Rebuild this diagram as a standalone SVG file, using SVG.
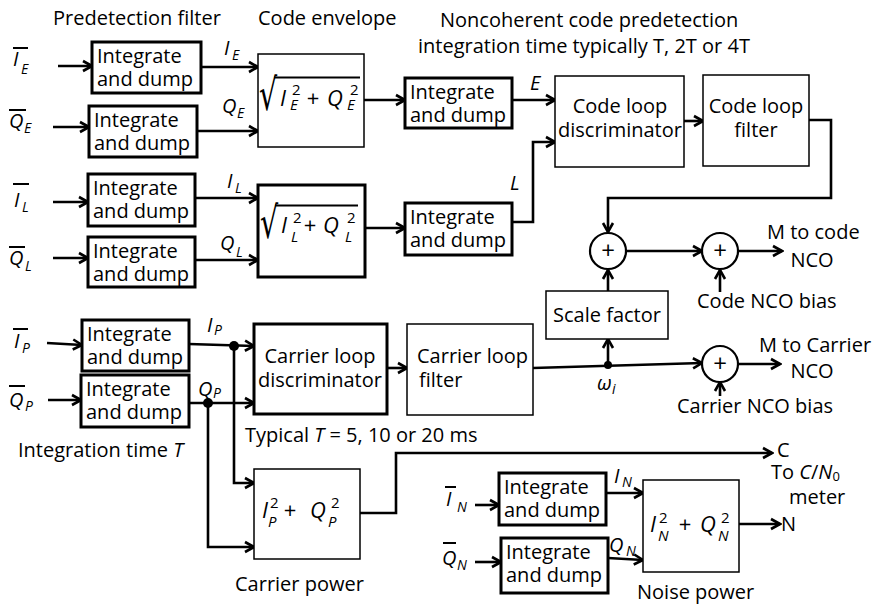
<svg xmlns="http://www.w3.org/2000/svg" width="876" height="604" viewBox="0 0 876 604">
<defs>
<marker id="ah" markerUnits="userSpaceOnUse" markerWidth="14" markerHeight="14" viewBox="0 0 14 14" refX="12" refY="7" orient="auto">
<path d="M3,2 L12,7 L3,12" fill="none" stroke="#000" stroke-width="2.6" stroke-linejoin="miter"/>
</marker>
<style>
text{font-family:"Open Sans","Noto Sans","DejaVu Sans",sans-serif;font-size:20px;fill:#000}
.c{text-anchor:middle}
.it{font-style:italic}
.sb{font-size:14px;font-style:italic}
.fm{font-size:22px;font-style:italic}
.fp{font-size:22px;text-anchor:middle}
.sp{font-size:15px}
.ss{font-size:15px;font-style:italic}
.pl{font-size:24px;text-anchor:middle}
.rad{font-family:"DejaVu Sans",sans-serif;font-size:44px}
.thick{fill:#fff;stroke:#000;stroke-width:3}
.thin{fill:#fff;stroke:#000;stroke-width:1.5}
.sum{fill:#fff;stroke:#000;stroke-width:2.2}
.cn path{fill:none;stroke:#000;stroke-width:2.6;marker-end:url(#ah)}
.bar{stroke:#000;stroke-width:2}
</style>
</defs>
<rect width="876" height="604" fill="#fff"/>

<!-- titles -->
<text x="53" y="25">Predetection filter</text>
<text x="258" y="25">Code envelope</text>
<text x="440" y="27">Noncoherent code predetection</text>
<text x="418" y="53">integration time typically T, 2T or 4T</text>
<text x="18" y="457">Integration time <tspan class="it">T</tspan></text>
<text x="245" y="442">Typical <tspan class="it">T</tspan> = 5, 10 or 20 ms</text>
<text x="235" y="591">Carrier power</text>
<text x="637" y="599">Noise power</text>

<g id="labels">
<line class="bar" x1="13" y1="48" x2="28" y2="48"/><text class="it" x="13" y="66">I</text><text class="sb" x="21" y="74">E</text>
<line class="bar" x1="9" y1="110" x2="26" y2="110"/><text class="it" x="9" y="128">Q</text><text class="sb" x="24" y="133">E</text>
<line class="bar" x1="13" y1="184" x2="29" y2="184"/><text class="it" x="14" y="207">I</text><text class="sb" x="22" y="212">L</text>
<line class="bar" x1="9" y1="247" x2="25" y2="247"/><text class="it" x="9" y="265">Q</text><text class="sb" x="25" y="271">L</text>
<line class="bar" x1="13" y1="329" x2="28" y2="329"/><text class="it" x="14" y="348">I</text><text class="sb" x="22" y="353">P</text>
<line class="bar" x1="9" y1="386" x2="25" y2="386"/><text class="it" x="9" y="407">Q</text><text class="sb" x="25" y="411">P</text>
<line class="bar" x1="445" y1="487" x2="456" y2="487"/><text class="it" x="446" y="506">I</text><text class="sb" x="457" y="512">N</text>
<line class="bar" x1="443" y1="543" x2="456" y2="543"/><text class="it" x="442" y="565">Q</text><text class="sb" x="457" y="570">N</text>

<text class="it" x="224" y="55">I</text><text class="sb" x="232" y="60">E</text>
<text class="it" x="222" y="113">Q</text><text class="sb" x="237" y="118">E</text>
<text class="it" x="227" y="188">I</text><text class="sb" x="235" y="193">L</text>
<text class="it" x="220" y="250">Q</text><text class="sb" x="236" y="257">L</text>
<text class="it" x="207" y="332">I</text><text class="sb" x="214" y="335">P</text>
<text class="it" x="198" y="396">Q</text><text class="sb" x="213" y="398">P</text>
<text class="it" x="614" y="483">I</text><text class="sb" x="622" y="487">N</text>
<text class="it" x="609" y="552">Q</text><text class="sb" x="626" y="556">N</text>
<text class="it" x="530" y="90">E</text>
<text class="it" x="510" y="190">L</text>
<text class="it" x="597" y="390">ω</text><text class="sb" x="612" y="394">i</text>

<text x="767" y="239">M to code</text>
<text class="c" x="812" y="267">NCO</text>
<text x="697" y="308">Code NCO bias</text>
<text x="759" y="352">M to Carrier</text>
<text class="c" x="812" y="378">NCO</text>
<text x="677" y="413">Carrier NCO bias</text>
<text x="777" y="457">C</text>
<text x="771" y="479">To  <tspan class="it">C</tspan>/<tspan class="it">N</tspan><tspan font-size="13px" dy="2">0</tspan></text>
<text x="789" y="504">meter</text>
<text x="781" y="531">N</text>
</g>

<g id="connectors" class="cn">
<path d="M58,66 H92"/>
<path d="M53,127 H89"/>
<path d="M201,67 H258"/>
<path d="M197,131 H258"/>
<path d="M53,202 H88"/>
<path d="M53,258 H88"/>
<path d="M195,198 H258"/>
<path d="M195,260 H258"/>
<path d="M364,100 H405"/>
<path d="M365,228 H405"/>
<path d="M512,100 H555"/>
<path d="M512,222 H533 V142 H555"/>
<path d="M684,121 H703"/>
<path d="M809,120 H831 V198 H608 V232"/>
<path d="M626,251 H702"/>
<path d="M738,251 H782"/>
<path d="M720,292 V270"/>
<path d="M608,291 V270"/>
<path d="M608,365 V339"/>
<path d="M533,368 L702,363"/>
<path d="M738,364 H780"/>
<path d="M720,396 V382"/>
<path d="M47,343 L82,345"/>
<path d="M48,400 H81"/>
<path d="M189,344 L254,346"/>
<path d="M189,403 H254"/>
<path d="M234,346 V483 H254"/>
<path d="M208,403 V547 H254"/>
<path d="M387,368 H407"/>
<path d="M360,513 H396 V453 H772"/>
<path d="M475,505 H499"/>
<path d="M475,562 H501"/>
<path d="M606,493 H643"/>
<path d="M608,558 L643,560"/>
<path d="M739,524 H780"/>
<circle cx="234" cy="346" r="5" fill="#000"/>
<circle cx="208" cy="403" r="5" fill="#000"/>
<circle cx="608" cy="365" r="4" fill="#000"/>
</g>

<!-- E branch -->
<g id="idE1"><rect class="thick" x="92" y="42" width="109" height="51"/><text x="97" y="63">Integrate</text><text x="97" y="86">and dump</text></g>
<g id="idQE1"><rect class="thick" x="89" y="106" width="108" height="51"/><text x="94" y="127">Integrate</text><text x="94" y="150">and dump</text></g>
<g id="envE"><rect class="thin" x="258" y="54" width="106" height="93"/>
<text class="rad" transform="translate(259,110) scale(0.65,1)">√</text><line x1="274" y1="77.5" x2="360" y2="77.5" stroke="#000" stroke-width="2"/>
<text class="fm" x="280" y="106">I</text><text class="sp" x="292" y="95">2</text><text class="ss" x="290" y="110">E</text>
<text class="fp" x="313" y="106">+</text>
<text class="fm" x="327" y="106">Q</text><text class="sp" x="350" y="95">2</text><text class="ss" x="347" y="110">E</text></g>
<g id="idE2"><rect class="thick" x="405" y="78" width="107" height="50"/><text x="410" y="99">Integrate</text><text x="410" y="122">and dump</text></g>

<!-- L branch -->
<g id="idL1"><rect class="thick" x="88" y="174" width="107" height="52"/><text x="93" y="195">Integrate</text><text x="93" y="218">and dump</text></g>
<g id="idQL1"><rect class="thick" x="88" y="237" width="107" height="50"/><text x="93" y="258">Integrate</text><text x="93" y="281">and dump</text></g>
<g id="envL"><rect class="thick" x="258" y="185" width="107" height="92"/>
<text class="rad" transform="translate(260,238) scale(0.65,1)">√</text><line x1="275" y1="205.5" x2="358" y2="205.5" stroke="#000" stroke-width="2.2"/>
<text class="fm" x="281" y="233">I</text><text class="sp" x="293" y="223">2</text><text class="ss" x="291" y="242">L</text>
<text class="fp" x="310" y="233">+</text>
<text class="fm" x="323" y="233">Q</text><text class="sp" x="347" y="223">2</text><text class="ss" x="345" y="242">L</text></g>
<g id="idL2"><rect class="thick" x="405" y="203" width="107" height="52"/><text x="410" y="224">Integrate</text><text x="410" y="247">and dump</text></g>

<!-- code loop -->
<g id="codeDisc"><rect class="thin" x="555" y="76" width="129" height="91"/><text class="c" x="620" y="113">Code loop</text><text class="c" x="620" y="137">discriminator</text></g>
<g id="codeFilt"><rect class="thin" x="703" y="75" width="106" height="91"/><text class="c" x="756" y="113">Code loop</text><text class="c" x="756" y="137">filter</text></g>
<g id="sum1"><circle class="sum" cx="608" cy="251" r="18"/><text class="pl" x="608" y="259">+</text></g>
<g id="sum2"><circle class="sum" cx="720" cy="251" r="18"/><text class="pl" x="720" y="259">+</text></g>
<g id="scale"><rect class="thin" x="546" y="291" width="122" height="48"/><text class="c" x="607" y="322">Scale factor</text></g>
<g id="sum3"><circle class="sum" cx="720" cy="364" r="18"/><text class="pl" x="720" y="372">+</text></g>

<!-- carrier -->
<g id="idP1"><rect class="thick" x="82" y="320" width="107" height="51"/><text x="87" y="341">Integrate</text><text x="87" y="364">and dump</text></g>
<g id="idQP1"><rect class="thick" x="81" y="375" width="108" height="52"/><text x="86" y="396">Integrate</text><text x="86" y="419">and dump</text></g>
<g id="carDisc"><rect class="thick" x="254" y="324" width="133" height="90"/><text class="c" x="320" y="363">Carrier loop</text><text class="c" x="320" y="387">discriminator</text></g>
<g id="carFilt"><rect class="thin" x="407" y="324" width="126" height="91"/><text x="417" y="363">Carrier loop</text><text x="419" y="387">filter</text></g>
<g id="carPow"><rect class="thin" x="254" y="469" width="106" height="90"/>
<text class="fm" x="262" y="518">I</text><text class="sp" x="270" y="508">2</text><text class="ss" x="268" y="527">P</text>
<text class="fp" x="290" y="518">+</text>
<text class="fm" x="310" y="518">Q</text><text class="sp" x="331" y="508">2</text><text class="ss" x="328" y="527">P</text></g>

<!-- noise -->
<g id="idN1"><rect class="thick" x="499" y="473" width="107" height="52"/><text x="504" y="494">Integrate</text><text x="504" y="517">and dump</text></g>
<g id="idQN1"><rect class="thick" x="501" y="538" width="107" height="55"/><text x="506" y="559">Integrate</text><text x="506" y="582">and dump</text></g>
<g id="noisePow"><rect class="thin" x="643" y="480" width="96" height="92"/>
<text class="fm" x="650" y="532">I</text><text class="sp" x="659" y="523">2</text><text class="ss" x="658" y="541">N</text>
<text class="fp" x="685" y="532">+</text>
<text class="fm" x="700" y="532">Q</text><text class="sp" x="721" y="523">2</text><text class="ss" x="718" y="541">N</text></g>
</svg>
